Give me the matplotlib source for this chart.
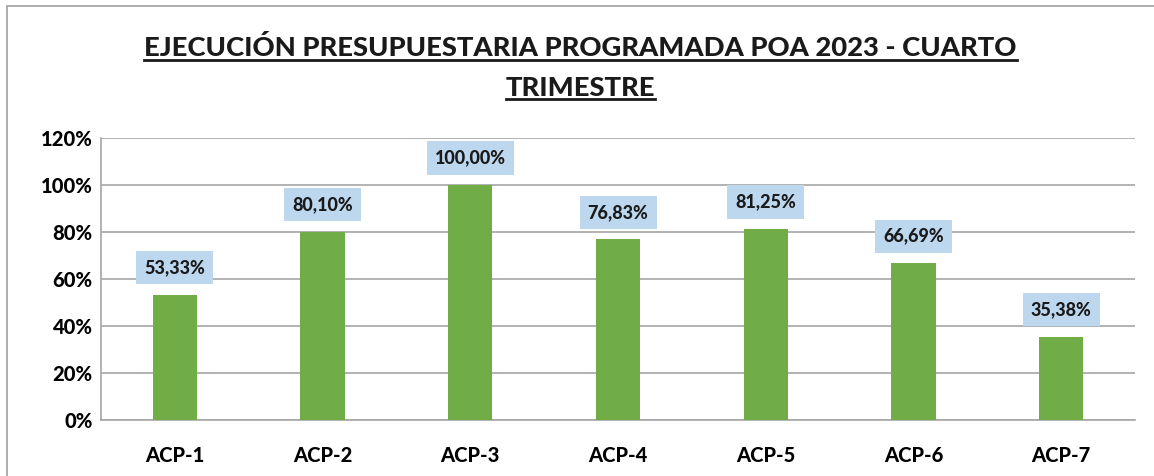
import matplotlib
matplotlib.use("Agg")
import matplotlib.pyplot as plt
from matplotlib.patches import Rectangle

categories = ["ACP-1", "ACP-2", "ACP-3", "ACP-4", "ACP-5", "ACP-6", "ACP-7"]
values = [53.33, 80.10, 100.00, 76.83, 81.25, 66.69, 35.38]
value_labels = ["53,33%", "80,10%", "100,00%", "76,83%", "81,25%", "66,69%", "35,38%"]
yticks = [0, 20, 40, 60, 80, 100, 120]
ytick_labels = ["0%", "20%", "40%", "60%", "80%", "100%", "120%"]
title_lines = ["EJECUCIÓN PRESUPUESTARIA PROGRAMADA POA 2023 - CUARTO", "TRIMESTRE"]

plt.rcParams['font.family'] = ['Lato', 'DejaVu Sans']

W, H = 1154, 476
fig = plt.figure(figsize=(W / 100, H / 100), dpi=100)
fig.patch.set_facecolor("white")

# outer border
fig.add_artist(Rectangle((7 / W, -0.05), 1.2, (1 - 6 / H) + 0.05, transform=fig.transFigure,
                         fill=False, edgecolor="#A0A0A0", linewidth=1.2))

left, right, top, bottom = 101, 1135, 138, 420
ax = fig.add_axes([left / W, 1 - bottom / H, (right - left) / W, (bottom - top) / H])

x = list(range(len(categories)))
ax.bar(x, values, width=0.30, color="#70AD47", zorder=3)
ax.set_xlim(-0.5, len(categories) - 0.5)
ax.set_ylim(0, 120)
ax.set_yticks(yticks)
ax.set_yticklabels(ytick_labels, fontsize=14.5, fontweight="black")
ax.set_xticks(x)
ax.set_xticklabels(categories, fontsize=14.5, fontweight="black")
ax.tick_params(axis="both", length=0)
ax.tick_params(axis="x", pad=19)
ax.tick_params(axis="y", pad=6)
ax.grid(axis="y", color="#A6A6A6", linewidth=1.2, zorder=0)
for s in ["top", "right"]:
    ax.spines[s].set_visible(False)
ax.spines["left"].set_color("#A6A6A6")
ax.spines["bottom"].set_color("#A6A6A6")
ax.spines["left"].set_linewidth(1.2)
ax.spines["bottom"].set_linewidth(1.2)

for xi, v, lab in zip(x, values, value_labels):
    ax.annotate(lab, (xi, v), xytext=(0, 19.5), textcoords="offset points",
                ha="center", va="center", fontsize=13, fontweight="black", color="#1a1a1a",
                bbox=dict(boxstyle="square,pad=0.45", facecolor="#BDD7EE", edgecolor="none"),
                zorder=4)

# title with underline
ys = [48, 88]
texts = []
for line, yp in zip(title_lines, ys):
    t = fig.text(0.5 * (7 + W) / W, 1 - yp / H, line, ha="center", va="center",
                 fontsize=19.7, fontweight="black", color="#1a1a1a")
    texts.append(t)

fig.canvas.draw()
r = fig.canvas.get_renderer()
for t in texts:
    bb = t.get_window_extent(r)
    yline = bb.y0 + 1
    fig.add_artist(plt.Line2D([bb.x0 / W, bb.x1 / W], [yline / H, yline / H],
                              transform=fig.transFigure, color="#1a1a1a", linewidth=2))

fig.savefig("out.png", dpi=100)
